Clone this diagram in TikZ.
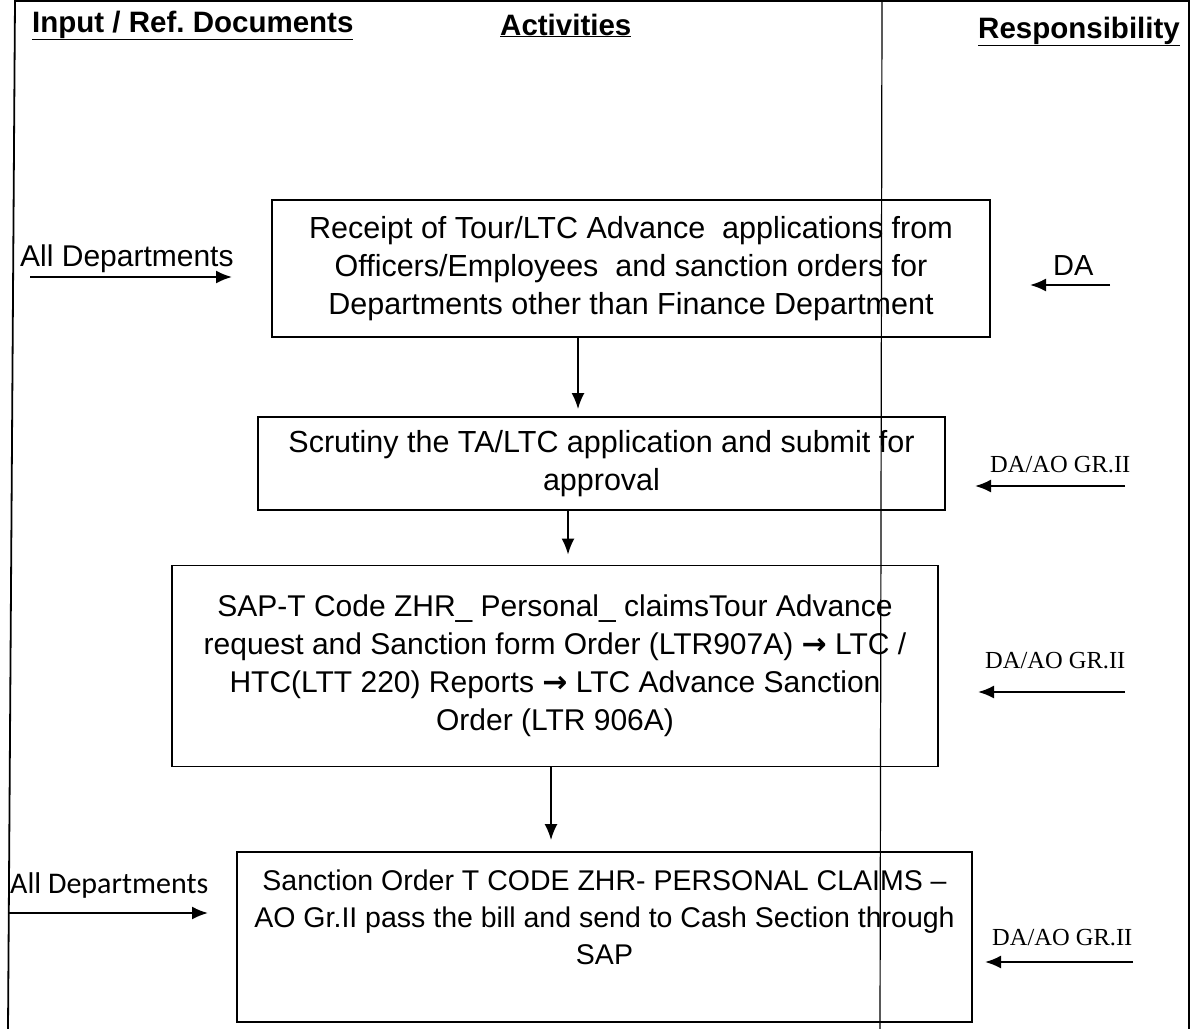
\documentclass[tikz,border=0pt]{standalone}
\usepackage{fontspec}
\setmainfont{Liberation Sans}
\newfontfamily\timesrm{Liberation Serif}
\newfontfamily\calibri{Carlito}
\newfontfamily\arrowfont{DejaVu Sans}
\newcommand{\sapto}{{\arrowfont\bfseries\fontsize{30}{30}\selectfont →}}
\usetikzlibrary{arrows.meta}
\frenchspacing

\begin{document}
\begin{tikzpicture}[x=1pt, y=-1pt,
                every node/.style={inner sep=0pt},
                activity/.style={rectangle, draw, line width=1.8pt, align=center, font=\fontsize{30.5}{38}\selectfont},
                head/.style={anchor=base west, font=\fontsize{29.5}{34}\selectfont\bfseries},
                dept/.style={anchor=base west, font=\fontsize{30}{34}\selectfont},
                resp/.style={anchor=base west, font=\timesrm\fontsize{24.5}{28}\selectfont},
                flow/.style={line width=2pt, -{Latex[length=16pt, width=13pt]}}
            ]
                \useasboundingbox (0,0) rectangle (1193,1028);
                \draw[line width=1.8pt] (8,1030) -- (15,1) -- (1189,1) -- (1189,1030);
                \draw[line width=1.2pt] (882,1) -- (880,1030);

                \node[head] (hdrinput) at (32,32) {\underline{Input / Ref. Documents}};
                \node[head] (hdract) at (500,35) {\underline{Activities}};
                \node[head] (hdrresp) at (978,38) {\underline{Responsibility}};

                \node[activity, minimum width=718pt, minimum height=137pt] (receipt) at (631,268.5)
                    {Receipt of Tour/LTC Advance\ \ applications from \\ Officers/Employees\ \ and sanction orders for \\ Departments other than Finance Department};
                \node[activity, minimum width=687pt, minimum height=93pt] (scrutiny) at (601.5,463.5)
                    {Scrutiny the TA/LTC application and submit for \\ approval};
                \node[activity, minimum width=766pt, minimum height=201pt, font=\fontsize{30}{38}\selectfont] (sapcode) at (555,666)
                    {SAP-T Code ZHR\_ Personal\_ claimsTour Advance \\ request and Sanction form Order (LTR907A) \sapto{} LTC / \\ HTC(LTT 220) Reports \sapto{} LTC Advance Sanction \\ Order (LTR 906A)};
                \node[activity, minimum width=735pt, minimum height=170pt, font=\fontsize{28.5}{37}\selectfont] (sanction) at (604.5,937)
                    {\parbox[c][134pt][t]{732pt}{\centering Sanction Order T CODE ZHR- PERSONAL CLAIMS – \\ AO Gr.II pass the bill and send to Cash Section through \\ SAP}};

                \draw[flow, shorten >=7pt] ([xshift=-53pt]receipt.south) -- ([xshift=-53pt]receipt.south |- scrutiny.north);
                \draw[flow, shorten >=10pt] ([xshift=-33.5pt]scrutiny.south) -- ([xshift=-33.5pt]scrutiny.south |- sapcode.north);
                \draw[flow, shorten >=11pt] ([xshift=-4pt]sapcode.south) -- ([xshift=-4pt]sapcode.south |- sanction.north);

                \node[dept] (deptA) at (20,266) {All Departments};
                \coordinate (inA) at (30,277);
                \coordinate (toA) at (232,277);
                \draw[flow] (inA) -- (toA);
                \node[dept, font=\calibri\fontsize{30}{34}\selectfont] (deptB) at (10,893) {All Departments};
                \coordinate (inB) at (8,913);
                \coordinate (toB) at (208,913);
                \draw[flow] (inB) -- (toB);

                \node[dept, font=\fontsize{29}{34}\selectfont] (respA) at (1053,275) {DA};
                \coordinate (outA) at (1110,285);
                \coordinate (backA) at (1030,285);
                \draw[flow] (outA) -- (backA);
                \node[resp] (respB) at (990,472) {DA/AO GR.II};
                \coordinate (outB) at (1125,486);
                \coordinate (backB) at (975,486);
                \draw[flow] (outB) -- (backB);
                \node[resp] (respC) at (985,668) {DA/AO GR.II};
                \coordinate (outC) at (1125,692);
                \coordinate (backC) at (978,692);
                \draw[flow] (outC) -- (backC);
                \node[resp] (respD) at (992,945) {DA/AO GR.II};
                \coordinate (outD) at (1133,962);
                \coordinate (backD) at (985,962);
                \draw[flow] (outD) -- (backD);
            \end{tikzpicture}
\end{document}
